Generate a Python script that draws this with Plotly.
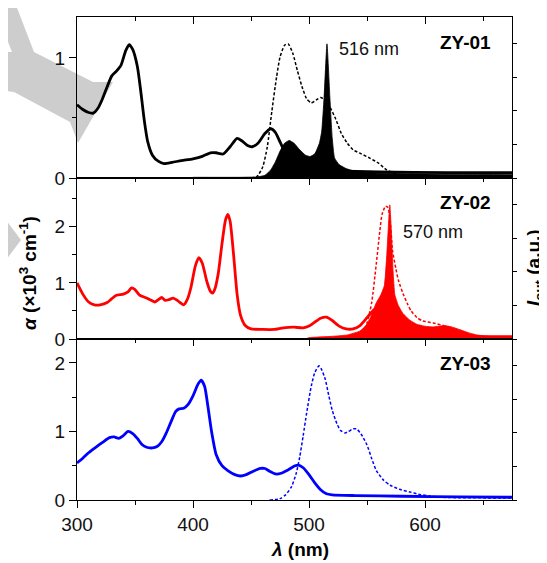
import plotly.graph_objects as go

# ---------------- data ----------------
# ZY-01
zy01_abs_x = [300,305,310,314,318,322,326,330,334,338,342,345,348,352,355,358,361,365,370,375,382,390,400,408,415,420,426,432,438,442,447,451,456,462,467,471,475,480,485,490,500,520,560,620,675]
zy01_abs_y = [0.61,0.57,0.545,0.54,0.58,0.66,0.76,0.85,0.89,0.94,1.06,1.11,1.07,0.93,0.72,0.48,0.30,0.19,0.14,0.12,0.13,0.145,0.16,0.18,0.21,0.21,0.20,0.26,0.33,0.31,0.27,0.26,0.29,0.37,0.41,0.38,0.30,0.20,0.13,0.09,0.07,0.06,0.05,0.045,0.045]
zy01_pl_x = [450,455,460,464,468,472,475,479,482,486,490,494,498,502,506,510,514,518,523,528,533,538,545,552,560,567,575,581,600,675]
zy01_pl_y = [0,0.01,0.08,0.23,0.5,0.75,0.9,0.99,1.0,0.93,0.8,0.68,0.59,0.56,0.58,0.6,0.58,0.53,0.44,0.33,0.26,0.21,0.18,0.15,0.11,0.06,0.03,0.02,0.012,0.01]
zy01_ase_x = [400,440,455,462,467,471,475,479,483,487,492,497,501,505,509,511,513,515.5,518,520,522,526,532,540,560,600,675]
zy01_ase_y = [0.005,0.005,0.008,0.02,0.06,0.12,0.2,0.26,0.28,0.26,0.21,0.17,0.16,0.18,0.26,0.35,0.6,1.0,0.6,0.3,0.15,0.1,0.07,0.05,0.035,0.03,0.025]

# ZY-02
zy02_abs_x = [300,305,310,315,320,326,330,334,340,344,347,350,354,360,364,367,370,373,376,379,383,387,392,395,398,402,405,408,412,415,417,419,422,425,428,430,432,435,438,441,445,450,460,470,478,487,495,500,505,510,515,520,526,532,538,544,550,555,558,562,566,572,580,600,640,675]
zy02_abs_y = [1.0,0.8,0.66,0.61,0.61,0.65,0.72,0.78,0.80,0.84,0.91,0.88,0.78,0.73,0.69,0.66,0.7,0.74,0.69,0.7,0.73,0.68,0.61,0.7,0.9,1.3,1.45,1.35,1.02,0.85,0.82,0.9,1.2,1.7,2.12,2.22,2.1,1.5,0.8,0.42,0.24,0.18,0.17,0.17,0.2,0.21,0.2,0.23,0.3,0.37,0.39,0.33,0.23,0.18,0.18,0.24,0.38,0.5,0.55,0.45,0.3,0.15,0.08,0.05,0.04,0.04]
zy02_pl_x = [540,545,550,554,558,561,563,566,568,570,572,575,577,581,585,588,593,598,607,616,620,624,632,640,675]
zy02_pl_y = [0,0.02,0.12,0.27,0.56,0.8,0.93,0.99,0.98,0.88,0.66,0.52,0.44,0.34,0.26,0.21,0.16,0.135,0.12,0.1,0.08,0.05,0.03,0.02,0.01]
zy02_ase_x = [497,500,520,533,544,549,553,558,562,565,567,568.5,569.7,571,572.5,574,577,581,587,593,600,607,612,617,623,630,638,645,655,667,675]
zy02_ase_y = [0,0.01,0.02,0.03,0.06,0.1,0.16,0.27,0.33,0.4,0.62,0.85,1.0,0.8,0.5,0.33,0.25,0.19,0.14,0.11,0.095,0.09,0.095,0.10,0.09,0.07,0.045,0.03,0.02,0.01,0.01]

# ZY-03
zy03_abs_x = [300,305,310,317,322,328,332,336,340,344,348,352,356,360,365,369,373,377,381,385,388,392,396,400,404,407,410,413,416,420,425,430,436,441,446,452,458,462,466,471,476,482,488,491,495,500,505,510,515,520,540,580,630,675]
zy03_abs_y = [0.54,0.61,0.69,0.78,0.84,0.91,0.92,0.9,0.94,1.0,0.97,0.9,0.81,0.77,0.76,0.78,0.85,0.98,1.14,1.29,1.33,1.34,1.4,1.52,1.68,1.75,1.66,1.35,1.0,0.66,0.5,0.43,0.37,0.35,0.37,0.42,0.46,0.46,0.42,0.38,0.39,0.44,0.5,0.51,0.47,0.37,0.25,0.15,0.09,0.075,0.065,0.055,0.045,0.04]
zy03_pl_x = [466,475,480,485,489,492,495,498,502,505,508.6,511,514,517,520,524,527,531,534,538,541,545,550,554,558,564,570,578,587,596,604,615,675]
zy03_pl_y = [0,0.01,0.04,0.1,0.2,0.32,0.48,0.65,0.85,0.95,1.0,0.97,0.9,0.78,0.67,0.57,0.52,0.5,0.51,0.53,0.53,0.49,0.41,0.31,0.22,0.15,0.11,0.08,0.06,0.04,0.03,0.02,0.015]

x_ticks = [300, 400, 500, 600]
panel_labels = ["ZY-01", "ZY-02", "ZY-03"]
peak_labels = ["516 nm", "570 nm"]

FONT = "Liberation Sans, Arial, sans-serif"
OFF = 8                      # page body margin
W, H = 547 - OFF, 563 - OFF
ML, MR, MT, MB = 77 - OFF, 35, 17 - OFF, 63
PW, PH = W - ML - MR, H - MT - MB

fig = go.Figure()

def line(x, y, color, xa, ya, width=2.8, dash=None, smooth=0.6):
    fig.add_trace(go.Scatter(x=x, y=y, xaxis=xa, yaxis=ya, mode="lines",
                             line=dict(color=color, width=width, dash=dash, shape="spline", smoothing=smooth),
                             showlegend=False, hoverinfo="skip"))

def filled(x, y, color, xa, ya):
    fig.add_trace(go.Scatter(x=x, y=y, xaxis=xa, yaxis=ya, mode="lines", fill="tozeroy",
                             fillcolor=color, line=dict(color=color, width=0.8, shape="spline", smoothing=0.4),
                             showlegend=False, hoverinfo="skip"))

# panel 1
filled(zy01_ase_x, zy01_ase_y, "black", "x", "y4")
line(zy01_pl_x, zy01_pl_y, "black", "x", "y4", width=1.5, dash="3px,2px")
line(zy01_abs_x, zy01_abs_y, "black", "x", "y")
# panel 2
filled(zy02_ase_x, zy02_ase_y, "#ff0000", "x2", "y5")
line(zy02_pl_x, zy02_pl_y, "#ff0000", "x2", "y5", width=1.5, dash="3px,2px")
line(zy02_abs_x, zy02_abs_y, "#ff0000", "x2", "y2")
# panel 3
line(zy03_pl_x, zy03_pl_y, "#0000ff", "x3", "y6", width=1.5, dash="3px,2px")
line(zy03_abs_x, zy03_abs_y, "#0000ff", "x3", "y3")
# dummy for the extra top axis of panel 3
fig.add_trace(go.Scatter(x=[None], y=[None], xaxis="x4", yaxis="y3", showlegend=False, hoverinfo="skip"))

tickfont = dict(family=FONT, size=19, color="#111")
common_x = dict(range=[300, 675], showline=True, linecolor="black", linewidth=1.3,
                tickvals=x_ticks, ticklen=7, tickwidth=1.2, tickcolor="black",
                showgrid=False, zeroline=False, tickfont=tickfont)
minor_in = dict(dtick=50, tick0=300, ticklen=4, ticks="inside", tickcolor="black", showgrid=False)
minor_out = dict(dtick=50, tick0=300, ticklen=4, ticks="outside", tickcolor="black", showgrid=False)

d1, d2, d3 = [2/3, 1], [1/3, 2/3], [0, 1/3]
lay = dict(
    width=W, height=H, margin=dict(l=ML, r=MR, t=MT, b=MB, autoexpand=False),
    paper_bgcolor="white", plot_bgcolor="rgba(0,0,0,0)",
    showlegend=False, font=dict(family=FONT, color="black"),
    xaxis=dict(**common_x, anchor="y", side="top", ticks="inside", showticklabels=False, minor=minor_in, mirror=True),
    xaxis2=dict(**common_x, anchor="y2", side="top", ticks="inside", showticklabels=False, minor=minor_in, mirror=True, matches="x"),
    xaxis3=dict(**common_x, anchor="y3", side="bottom", ticks="outside", showticklabels=True, minor=minor_out, mirror=True, matches="x"),
    xaxis4=dict(**common_x, anchor="y3", overlaying="x3", side="top", ticks="inside", showticklabels=False, minor=minor_in, matches="x"),
)
common_y = dict(showline=True, linecolor="black", linewidth=1.3, ticks="outside", ticklen=7, tickwidth=1.2,
                tickcolor="black", showgrid=False, zeroline=False, tickfont=tickfont, dtick=1, tick0=0,
                minor=dict(dtick=0.5, tick0=0, ticklen=4, ticks="outside", tickcolor="black", showgrid=False),
                mirror=True)
lay["yaxis"] = dict(**common_y, domain=d1, range=[0, 1.34], anchor="x")
lay["yaxis2"] = dict(**common_y, domain=d2, range=[0, 2.87], anchor="x2")
lay["yaxis3"] = dict(**common_y, domain=d3, range=[0, 2.35], anchor="x3")
common_r = dict(side="right", range=[0, 1.2], tick0=0, dtick=0.25, ticks="outside", ticklen=4, tickwidth=1.2,
                tickcolor="black", showticklabels=False, showgrid=False, zeroline=False, showline=False)
lay["yaxis4"] = dict(**common_r, overlaying="y", anchor="x")
lay["yaxis5"] = dict(**common_r, overlaying="y2", anchor="x2")
lay["yaxis6"] = dict(**common_r, overlaying="y3", anchor="x3")
fig.update_layout(**lay)

# watermark (decorative grey shape); points given in page pixels
def px2paper(pts):
    return [((px - OFF - ML) / PW, 1 - (py - OFF - MT) / PH) for px, py in pts]

def path(pts):
    p = px2paper(pts)
    return "M " + " L ".join(f"{a:.4f},{b:.4f}" for a, b in p) + " Z"

wm_color = "#cdcdcd"
wm1 = [(0, 0), (14, 0), (34, 52), (93, 82), (113, 82), (78, 143), (70, 122), (14, 92), (0, 90), (0, 52), (12, 52), (0, 22)]
wm2 = [(0, 212), (21, 240), (0, 268)]
for pts in (wm1, wm2):
    fig.add_shape(type="path", path=path(pts), xref="paper", yref="paper",
                  fillcolor=wm_color, line=dict(width=0), layer="below")

def pxx(px):
    return (px - OFF - ML) / PW

def pxy(py):
    return 1 - (py - OFF - MT) / PH

ann = []
lab_font = dict(family=FONT, size=19, color="black")
for lbl, yp in zip(panel_labels, [42, 202, 363]):
    ann.append(dict(text=f"<b>{lbl}</b>", xref="paper", yref="paper", x=pxx(493), y=pxy(yp),
                    xanchor="right", yanchor="middle", showarrow=False, font=lab_font))
ann.append(dict(text=peak_labels[0], xref="x", yref="y", x=552, y=1.07, showarrow=False,
                font=dict(family=FONT, size=18, color="#111"), xanchor="center", yanchor="middle"))
ann.append(dict(text=peak_labels[1], xref="x2", yref="y2", x=607, y=1.91, showarrow=False,
                font=dict(family=FONT, size=18, color="#111"), xanchor="center", yanchor="middle"))
ann.append(dict(text="<b><i>α</i> (×10<sup>3</sup> cm<sup>-1</sup>)</b>", xref="paper", yref="paper",
                x=pxx(28), y=pxy(273), textangle=-90, showarrow=False,
                xanchor="center", yanchor="middle", font=dict(family=FONT, size=19, color="black")))
ann.append(dict(text="<b><i>I</i><sub>out</sub> (a.u.)</b>", xref="paper", yref="paper",
                x=pxx(535), y=pxy(268), textangle=-90, showarrow=False,
                xanchor="center", yanchor="middle", font=dict(family=FONT, size=19, color="black")))
ann.append(dict(text="<b><i>λ</i> (nm)</b>", xref="paper", yref="paper",
                x=pxx(300), y=pxy(549), showarrow=False,
                xanchor="center", yanchor="middle", font=dict(family=FONT, size=19, color="black")))
fig.update_layout(annotations=ann)

fig.write_html("out.html")
